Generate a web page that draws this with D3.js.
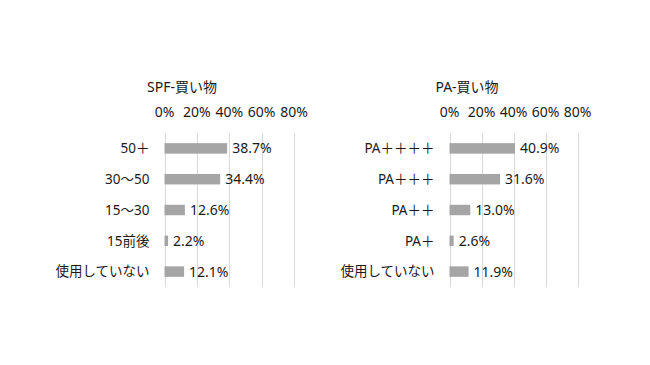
<!DOCTYPE html>
<html>
<head>
<meta charset="utf-8">
<script src="https://cdn.jsdelivr.net/npm/d3@7"></script>
<style>
  body { margin: 0; background: #fff; }
  text { font-family: "Noto Sans", "Noto Sans CJK JP", sans-serif; fill: #1a1a1a; }
</style>
</head>
<body>
<svg width="650" height="365"></svg>
<script>
var ticks = [0, 20, 40, 60, 80];

var spfCategories = ["50＋", "30～50", "15～30", "15前後", "使用していない"];
var spfValues = [38.7, 34.4, 12.6, 2.2, 12.1];

var paCategories = ["PA＋＋＋＋", "PA＋＋＋", "PA＋＋", "PA＋", "使用していない"];
var paValues = [40.9, 31.6, 13.0, 2.6, 11.9];

var svg = d3.select("svg");

function drawChart(title, categories, values, x0, x1, titleX) {
  var top = 133, bottom = 287;

  var x = d3.scaleLinear().domain([0, 80]).range([x0, x1]);
  var y = d3.scaleBand().domain(categories).range([top, bottom]).paddingInner(0.66).paddingOuter(0.33);

  var g = svg.append("g");

  g.append("text")
    .attr("x", titleX)
    .attr("y", 87)
    .attr("dy", "0.35em")
    .attr("text-anchor", "middle")
    .attr("font-size", 14)
    .text(title);

  // gridlines
  g.selectAll("line.grid")
    .data(ticks)
    .enter().append("line")
    .attr("class", "grid")
    .attr("x1", function (d) { return Math.round(x(d)) + 0.5; })
    .attr("x2", function (d) { return Math.round(x(d)) + 0.5; })
    .attr("y1", top)
    .attr("y2", bottom)
    .attr("stroke", "#d9d9d9")
    .attr("stroke-width", 1);

  // top axis labels
  g.selectAll("text.tick")
    .data(ticks)
    .enter().append("text")
    .attr("class", "tick")
    .attr("x", function (d) { return x(d); })
    .attr("y", 112)
    .attr("dy", "0.35em")
    .attr("text-anchor", "middle")
    .attr("font-size", 14)
    .text(function (d) { return d + "%"; });

  // category labels
  g.selectAll("text.cat")
    .data(categories)
    .enter().append("text")
    .attr("class", "cat")
    .attr("x", x0 - 15)
    .attr("y", function (d) { return y(d) + y.bandwidth() / 2; })
    .attr("dy", "0.35em")
    .attr("text-anchor", "end")
    .attr("font-size", 13.5)
    .text(function (d) { return d; });

  // bars
  g.selectAll("rect")
    .data(values)
    .enter().append("rect")
    .attr("x", x(0))
    .attr("y", function (d, i) { return y(categories[i]); })
    .attr("width", function (d) { return x(d) - x(0); })
    .attr("height", y.bandwidth())
    .attr("fill", "#a5a5a5");

  // value labels
  g.selectAll("text.val")
    .data(values)
    .enter().append("text")
    .attr("class", "val")
    .attr("x", function (d) { return x(d) + 5; })
    .attr("y", function (d, i) { return y(categories[i]) + y.bandwidth() / 2; })
    .attr("dy", "0.35em")
    .attr("font-size", 14)
    .text(function (d) { return d.toFixed(1) + "%"; });
}

drawChart("SPF-買い物", spfCategories, spfValues, 164.5, 294, 182);
drawChart("PA-買い物", paCategories, paValues, 449.5, 577.5, 467);
</script>
</body>
</html>
